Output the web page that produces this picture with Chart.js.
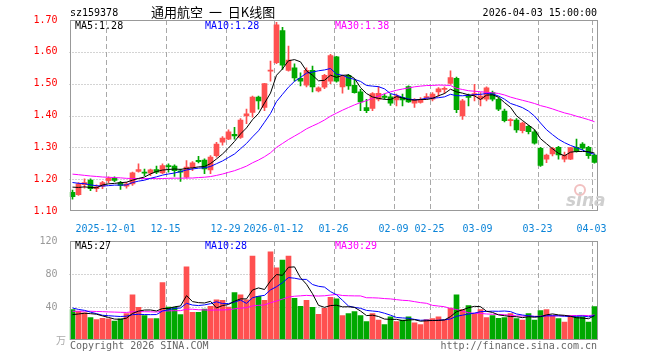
<!DOCTYPE html>
<html>
<head>
<meta charset="utf-8">
<script src="https://cdn.jsdelivr.net/npm/chart.js@4.4.1/dist/chart.umd.min.js"></script>
<style>
body{margin:0;background:#fff;width:660px;height:360px;overflow:hidden;position:relative;font-family:"DejaVu Sans Mono",monospace;font-size:10px}
canvas{position:absolute;left:0}
.t{position:absolute;white-space:pre;line-height:12px}
</style>
</head>
<body>
<canvas id="priceChart" width="660" height="232" style="top:0"></canvas>
<canvas id="volChart" width="660" height="129" style="top:231px"></canvas>

<div class="t" style="left:70px;top:7px">sz159378</div>
<div class="t" style="left:151px;top:4px;font-family:'Noto Sans CJK SC';font-size:13px;line-height:15px;word-spacing:3px">通用航空 一 日K线图</div>
<div class="t" style="right:63px;top:7px">2026-04-03 15:00:00</div>

<div class="t" style="left:75px;top:20px">MA5:1.28</div>
<div class="t" style="left:205px;top:20px;color:#0000ff">MA10:1.28</div>
<div class="t" style="left:335px;top:20px;color:#ff00ff">MA30:1.38</div>

<div style="position:absolute;left:574px;top:184px;width:8px;height:8px;border:2px solid #f2c0c0;border-radius:50%"></div>
<div class="t" style="left:566px;top:190px;font-family:'DejaVu Sans';font-size:17px;line-height:20px;font-weight:bold;font-style:italic;color:#cfcfcf">sina</div>

<div class="t" style="left:75px;top:240px">MA5:27</div>
<div class="t" style="left:205px;top:240px;color:#0000ff">MA10:28</div>
<div class="t" style="left:335px;top:240px;color:#ff00ff">MA30:29</div>

<div class="t" style="left:56px;top:334px;font-family:'Noto Sans CJK SC';font-size:10px;color:#aaa">万</div>
<div class="t" style="left:70px;top:340px;color:#666">Copyright 2026 SINA.COM</div>
<div class="t" style="right:63px;top:340px;color:#666">http://finance.sina.com.cn</div>

<script>
const dates = [
  "2025-11-21", "2025-11-24", "2025-11-25", "2025-11-26", "2025-11-27", "2025-11-28",
  "2025-12-01", "2025-12-02", "2025-12-03", "2025-12-04", "2025-12-05",
  "2025-12-08", "2025-12-09", "2025-12-10", "2025-12-11", "2025-12-12",
  "2025-12-15", "2025-12-16", "2025-12-17", "2025-12-18", "2025-12-19",
  "2025-12-22", "2025-12-23", "2025-12-24", "2025-12-25", "2025-12-26",
  "2025-12-29", "2025-12-30", "2025-12-31",
  "2026-01-05", "2026-01-06", "2026-01-07", "2026-01-08", "2026-01-09",
  "2026-01-12", "2026-01-13", "2026-01-14", "2026-01-15", "2026-01-16",
  "2026-01-19", "2026-01-20", "2026-01-21", "2026-01-22", "2026-01-23",
  "2026-01-26", "2026-01-27", "2026-01-28", "2026-01-29", "2026-01-30",
  "2026-02-02", "2026-02-03", "2026-02-04", "2026-02-05", "2026-02-06",
  "2026-02-09", "2026-02-10", "2026-02-11", "2026-02-12", "2026-02-13",
  "2026-02-24", "2026-02-25", "2026-02-26", "2026-02-27",
  "2026-03-02", "2026-03-03", "2026-03-04", "2026-03-05", "2026-03-06",
  "2026-03-09", "2026-03-10", "2026-03-11", "2026-03-12", "2026-03-13",
  "2026-03-16", "2026-03-17", "2026-03-18", "2026-03-19", "2026-03-20",
  "2026-03-23", "2026-03-24", "2026-03-25", "2026-03-26", "2026-03-27",
  "2026-03-30", "2026-03-31", "2026-04-01", "2026-04-02", "2026-04-03"
];

const opens = [
  1.159, 1.151, 1.183, 1.197, 1.170, 1.178, 1.195, 1.203, 1.189, 1.178,
  1.185, 1.224, 1.222, 1.219, 1.230, 1.220, 1.243, 1.241, 1.226, 1.206,
  1.236, 1.259, 1.260, 1.229, 1.274, 1.316, 1.326, 1.341, 1.331, 1.399,
  1.410, 1.458, 1.425, 1.539, 1.566, 1.667, 1.542, 1.550, 1.517, 1.495,
  1.542, 1.477, 1.489, 1.508, 1.584, 1.490, 1.526, 1.495, 1.474, 1.425,
  1.422, 1.451, 1.461, 1.459, 1.449, 1.456, 1.491, 1.439, 1.441, 1.456,
  1.451, 1.474, 1.482, 1.501, 1.517, 1.399, 1.461, 1.464, 1.451, 1.451,
  1.472, 1.451, 1.414, 1.384, 1.386, 1.352, 1.366, 1.349, 1.297, 1.263,
  1.279, 1.300, 1.263, 1.263, 1.300, 1.310, 1.300, 1.276
];
const closes = [
  1.145, 1.185, 1.189, 1.170, 1.176, 1.189, 1.203, 1.196, 1.180, 1.185,
  1.220, 1.230, 1.219, 1.229, 1.222, 1.243, 1.239, 1.227, 1.222, 1.238,
  1.251, 1.255, 1.232, 1.269, 1.310, 1.329, 1.349, 1.336, 1.386, 1.405,
  1.458, 1.446, 1.500, 1.543, 1.685, 1.558, 1.574, 1.518, 1.508, 1.542,
  1.490, 1.487, 1.526, 1.588, 1.508, 1.522, 1.493, 1.472, 1.443, 1.415,
  1.469, 1.470, 1.457, 1.439, 1.461, 1.449, 1.443, 1.449, 1.451, 1.459,
  1.467, 1.484, 1.484, 1.519, 1.418, 1.446, 1.457, 1.469, 1.461, 1.487,
  1.451, 1.420, 1.384, 1.386, 1.355, 1.376, 1.349, 1.313, 1.243, 1.276,
  1.297, 1.276, 1.276, 1.299, 1.287, 1.297, 1.274, 1.253
];
const highs = [
  1.166, 1.189, 1.201, 1.201, 1.182, 1.193, 1.207, 1.207, 1.193, 1.190,
  1.222, 1.248, 1.232, 1.232, 1.241, 1.248, 1.248, 1.245, 1.232, 1.258,
  1.255, 1.272, 1.264, 1.274, 1.316, 1.334, 1.355, 1.363, 1.390, 1.420,
  1.461, 1.461, 1.501, 1.571, 1.693, 1.677, 1.618, 1.562, 1.534, 1.550,
  1.555, 1.490, 1.529, 1.592, 1.586, 1.526, 1.529, 1.514, 1.482, 1.451,
  1.472, 1.491, 1.467, 1.467, 1.467, 1.467, 1.493, 1.453, 1.456, 1.469,
  1.472, 1.488, 1.490, 1.540, 1.521, 1.451, 1.467, 1.498, 1.472, 1.490,
  1.477, 1.456, 1.420, 1.390, 1.390, 1.379, 1.369, 1.355, 1.300, 1.279,
  1.300, 1.303, 1.285, 1.300, 1.326, 1.315, 1.303, 1.279
];
const lows = [
  1.137, 1.149, 1.172, 1.164, 1.161, 1.170, 1.189, 1.192, 1.168, 1.172,
  1.180, 1.222, 1.211, 1.211, 1.217, 1.217, 1.222, 1.209, 1.193, 1.203,
  1.227, 1.251, 1.217, 1.217, 1.269, 1.307, 1.324, 1.326, 1.328, 1.374,
  1.395, 1.420, 1.415, 1.508, 1.563, 1.545, 1.539, 1.508, 1.493, 1.490,
  1.474, 1.474, 1.484, 1.500, 1.505, 1.470, 1.482, 1.470, 1.415, 1.409,
  1.415, 1.446, 1.451, 1.432, 1.430, 1.430, 1.441, 1.425, 1.439, 1.451,
  1.446, 1.461, 1.469, 1.498, 1.409, 1.388, 1.430, 1.446, 1.430, 1.446,
  1.446, 1.415, 1.380, 1.367, 1.347, 1.345, 1.342, 1.310, 1.240, 1.252,
  1.273, 1.263, 1.254, 1.261, 1.285, 1.293, 1.265, 1.250
];
// volume, 万手
const volumes = [
  36.8, 34.8, 32.8, 27.2, 24.8, 26.4, 25.6, 22.8, 25.6, 32,
  54.8, 39.6, 29.6, 26, 26, 69.6, 40, 39.6, 30.8, 88.8,
  33.6, 33.6, 37.6, 40.8, 48.8, 48, 40, 57.6, 54.8, 48.8,
  101.6, 52.8, 48, 106.8, 87.6, 96.8, 101.6, 50.4, 40.8, 48,
  39.6, 31.2, 38.4, 51.6, 50, 29.6, 32, 34.4, 29.6, 22.4,
  32, 24, 18.8, 28, 22.4, 24, 28, 20.8, 18.8, 24.8,
  26, 28, 24, 38.8, 54.8, 36.8, 41.6, 32, 36.8, 27.2,
  29.6, 26.4, 27.2, 32, 26, 24, 32, 24, 35.6, 36.8,
  29.6, 26, 21.6, 29.6, 28, 28, 21.6, 40.4
];
// sessions before the window, only used so the moving averages start filled
const priorCloses = [
  1.24, 1.25, 1.23, 1.22, 1.24, 1.23, 1.22, 1.21, 1.23, 1.24,
  1.22, 1.23, 1.22, 1.24, 1.23, 1.22, 1.21, 1.23, 1.22, 1.25,
  1.21, 1.20, 1.21, 1.20, 1.20, 1.19, 1.18, 1.18, 1.18
];
const priorVolumes = [
  30, 35, 28, 34, 31, 36, 29, 33, 38, 30,
  32, 35, 30, 34, 31, 36, 33, 30, 35, 36,
  52, 44, 49, 43, 46, 31, 28, 30, 28
];

const tickDates = ["2025-12-01", "2025-12-15", "2025-12-29", "2026-01-12", "2026-01-26",
  "2026-02-09", "2026-02-25", "2026-03-09", "2026-03-23", "2026-04-03"];
const tickText = ["2025-12-01", "12-15", "12-29", "2026-01-12", "01-26",
  "02-09", "02-25", "03-09", "03-23", "04-03"];
const priceGrid = [1.2, 1.3, 1.4, 1.5, 1.6];
const volumeGrid = [40, 80];

const upColor = "#ff5050";
const downColor = "#00a800";

function movingAverage(prior, values, n) {
  const all = prior.concat(values);
  return values.map((v, i) => {
    const end = prior.length + i + 1;
    const win = all.slice(Math.max(0, end - n), end);
    return win.reduce((s, x) => s + x, 0) / win.length;
  });
}

const candleColors = closes.map((c, i) => (c >= opens[i] ? upColor : downColor));
const tickIndex = tickDates.map((d) => dates.indexOf(d));

// dashed date lines, dotted value lines, gray frame
function gridPlugin(levels) {
  return {
    id: "sinaGrid",
    beforeDatasetsDraw(chart) {
      const a = chart.chartArea;
      const ctx = chart.ctx;
      const xs = chart.scales.x, ys = chart.scales.y;
      const half = (xs.getPixelForValue(1) - xs.getPixelForValue(0)) / 2;
      ctx.save();
      ctx.strokeStyle = "#a8a8a8";
      ctx.lineWidth = 1;
      ctx.setLineDash([5, 3]);
      tickIndex.forEach((i) => {
        const x = Math.round(xs.getPixelForValue(i) - half) + 0.5;
        ctx.beginPath();
        ctx.moveTo(x, a.top);
        ctx.lineTo(x, a.bottom);
        ctx.stroke();
      });
      ctx.setLineDash([1, 2]);
      levels.forEach((v) => {
        const y = Math.round(ys.getPixelForValue(v)) + 0.5;
        ctx.beginPath();
        ctx.moveTo(a.left, y);
        ctx.lineTo(a.right, y);
        ctx.stroke();
      });
      ctx.restore();
    },
    afterDraw(chart) {
      const a = chart.chartArea;
      const ctx = chart.ctx;
      ctx.save();
      ctx.strokeStyle = "#999";
      ctx.lineWidth = 1;
      const l = Math.round(a.left) + 0.5, r = Math.round(a.right) - 0.5;
      const t = Math.round(a.top) + 0.5, b = Math.round(a.bottom) - 0.5;
      ctx.strokeRect(l, t, r - l, b - t);
      ctx.restore();
    },
  };
}

function xScale(showLabels) {
  return {
    type: "category",
    offset: true,
    grid: { display: false },
    border: { display: false },
    ticks: {
      display: showLabels,
      autoSkip: false,
      maxRotation: 0,
      padding: 4,
      labelOffset: -3,
      color: "#0b84d8",
      font: { family: "DejaVu Sans Mono", size: 10 },
      callback: (v, i) => {
        const k = tickIndex.indexOf(i);
        return k >= 0 ? tickText[k] : "";
      },
    },
    afterFit: (s) => { s.height = showLabels ? 21 : 0; },
  };
}

function yScale(min, max, step, color, fmt) {
  return {
    min: min,
    max: max,
    grid: { display: false },
    border: { display: false },
    ticks: {
      stepSize: step,
      padding: 4,
      color: color,
      font: { family: "DejaVu Sans Mono", size: 10 },
      callback: fmt,
    },
    afterFit: (s) => { s.width = 69.5; },
  };
}

function maLine(data, color) {
  return {
    type: "line",
    data: data,
    borderColor: color,
    borderWidth: 1,
    pointRadius: 0,
    tension: 0,
    order: 1,
  };
}

new Chart(document.getElementById("priceChart"), {
  type: "bar",
  data: {
    labels: dates,
    datasets: [
      {
        data: lows.map((l, i) => [l, highs[i]]),
        backgroundColor: candleColors,
        barThickness: 1,
        grouped: false,
        order: 3,
      },
      {
        data: opens.map((o, i) => [o, closes[i]]),
        backgroundColor: candleColors,
        barThickness: 5,
        minBarLength: 1,
        grouped: false,
        order: 2,
      },
      maLine(movingAverage(priorCloses, closes, 5), "#000000"),
      maLine(movingAverage(priorCloses, closes, 10), "#0000ff"),
      maLine(movingAverage(priorCloses, closes, 30), "#ff00ff"),
    ],
  },
  options: {
    responsive: false,
    animation: false,
    events: [],
    layout: { padding: { top: 20, right: 62.5, left: 0, bottom: 0 } },
    plugins: { legend: { display: false }, tooltip: { enabled: false } },
    scales: {
      x: xScale(true),
      y: yScale(1.1, 1.7, 0.1, "#ff0000", (v) => v.toFixed(2)),
    },
  },
  plugins: [gridPlugin(priceGrid)],
});

new Chart(document.getElementById("volChart"), {
  type: "bar",
  data: {
    labels: dates,
    datasets: [
      {
        data: volumes,
        backgroundColor: candleColors,
        barThickness: 5,
        grouped: false,
        order: 2,
      },
      maLine(movingAverage(priorVolumes, volumes, 5), "#000000"),
      maLine(movingAverage(priorVolumes, volumes, 10), "#0000ff"),
      maLine(movingAverage(priorVolumes, volumes, 30), "#ff00ff"),
    ],
  },
  options: {
    responsive: false,
    animation: false,
    events: [],
    layout: { padding: { top: 9, right: 62.5, left: 0, bottom: 20 } },
    plugins: { legend: { display: false }, tooltip: { enabled: false } },
    scales: {
      x: xScale(false),
      y: yScale(0, 120, 40, "#999999", (v) => (v === 0 ? "" : v)),
    },
  },
  plugins: [gridPlugin(volumeGrid)],
});
</script>
</body>
</html>
